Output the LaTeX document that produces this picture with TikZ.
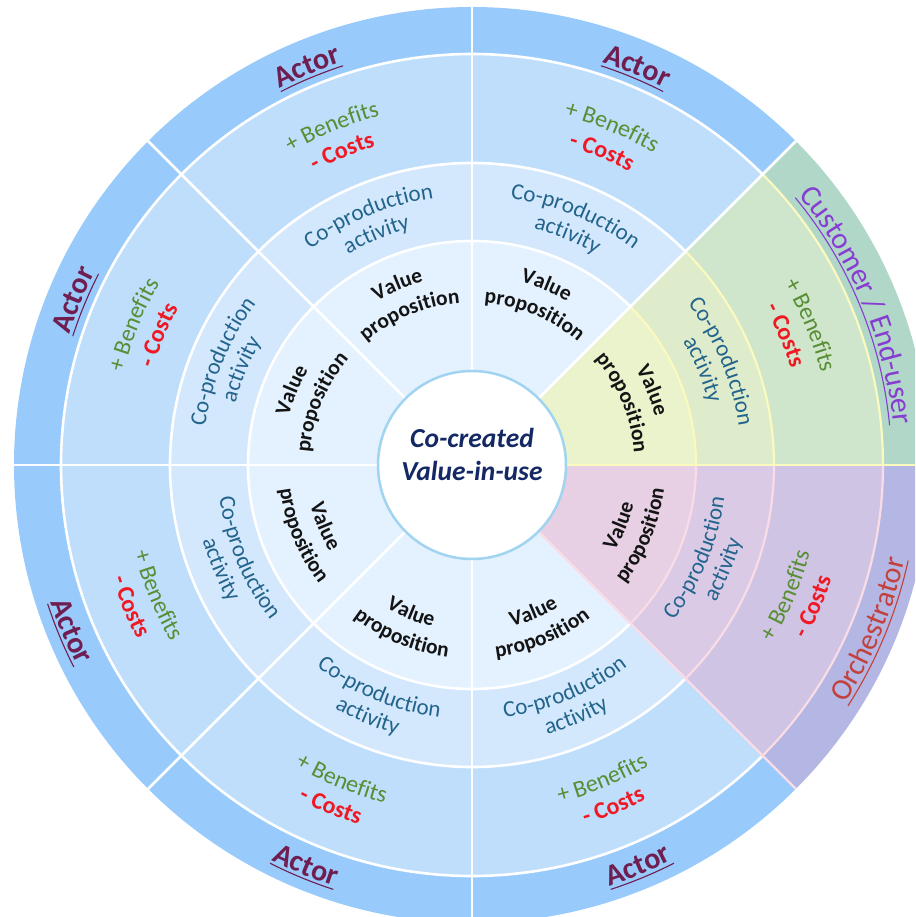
\documentclass[tikz,border=0pt]{standalone}
\usepackage{fontspec}
\setmainfont{Carlito}
\usetikzlibrary{decorations.text}

\definecolor{aOut}{RGB}{152,203,252}
\definecolor{aBen}{RGB}{190,222,252}
\definecolor{aCop}{RGB}{211,232,253}
\definecolor{aVal}{RGB}{228,241,254}
\definecolor{cOut}{RGB}{176,215,200}
\definecolor{cBen}{RGB}{207,229,204}
\definecolor{cCop}{RGB}{222,236,203}
\definecolor{cVal}{RGB}{235,243,205}
\definecolor{oOut}{RGB}{180,182,228}
\definecolor{oBen}{RGB}{207,196,228}
\definecolor{oCop}{RGB}{218,202,230}
\definecolor{oVal}{RGB}{231,208,228}
\definecolor{cLine}{RGB}{250,250,190}
\definecolor{oLine}{RGB}{250,220,230}
\definecolor{ringB}{RGB}{160,212,240}
\definecolor{actorC}{RGB}{112,30,80}
\definecolor{benC}{RGB}{88,142,52}
\definecolor{costC}{RGB}{240,25,35}
\definecolor{copC}{RGB}{35,100,140}
\definecolor{valC}{RGB}{20,20,20}
\definecolor{centC}{RGB}{20,40,100}
\definecolor{custC}{RGB}{135,60,210}
\definecolor{orchC}{RGB}{195,65,60}

\newcommand\FmtL{\fontsize{30}{36}\selectfont}
\newcommand\FmtLB{\fontsize{30}{36}\selectfont\bfseries}
\newcommand\FmtB{\fontsize{24}{29}\selectfont\color{benC}}
\newcommand\FmtK{\fontsize{24}{29}\selectfont\bfseries\color{costC}}
\newcommand\FmtC{\fontsize{23}{28}\selectfont\color{copC}}
\newcommand\FmtV{\fontsize{21.5}{26}\selectfont\bfseries\color{valC}}

\newcommand\WedgeFill[4]{%
  \fill[#4] (#1:#2pt) arc[start angle=#1, end angle=#1+45, radius=#2pt]
    -- ({#1+45}:#3pt) arc[start angle=#1+45, end angle=#1, radius=#3pt] -- cycle;}

% angle, baseline radius, dir (1 upper half, -1 lower half), format, text
\newcommand\ArcText[5]{%
  \pgfmathsetmacro\WaS{#1+(#3)*40}%
  \pgfmathsetmacro\WaE{#1-(#3)*40}%
  \path[decorate,decoration={text along path,text align=center,text={|#4|#5}}]
    (\WaS:#2pt) arc[start angle=\WaS,end angle=\WaE,radius=#2pt];}

% angle, mid radius, line spacing, offset, fmt1, line1, fmt2, line2
\newcommand\TwoLine[8]{%
  \pgfmathsetmacro\WSn{sin(#1)}%
  \ifdim\WSn pt>0pt
    \pgfmathsetmacro\WRa{#2+(#3)/2-(#4)}\pgfmathsetmacro\WRb{#2-(#3)/2-(#4)}\def\WDir{1}%
  \else
    \pgfmathsetmacro\WRa{#2-(#3)/2+(#4)}\pgfmathsetmacro\WRb{#2+(#3)/2+(#4)}\def\WDir{-1}%
  \fi
  \ArcText{#1}{\WRa}{\WDir}{#5}{#6}%
  \ArcText{#1}{\WRb}{\WDir}{#7}{#8}}

% angle, text, colour, text width (pt), font format
\newcommand\OuterLabel[5]{%
  \pgfmathsetmacro\WSn{sin(#1)}%
  \ifdim\WSn pt>0pt
    \def\WDir{1}\def\WRl{423}\def\WRu{419.5}%
  \else
    \def\WDir{-1}\def\WRl{443}\def\WRu{446.5}%
  \fi
  \ArcText{#1}{\WRl}{\WDir}{#5\color{#3}}{#2}%
  \pgfmathsetmacro\WHs{(#4)/(\WRl)*90/3.14159}%
  \pgfmathsetmacro\WuS{#1+(\WDir)*(\WHs)}%
  \pgfmathsetmacro\WuE{#1-(\WDir)*(\WHs)}%
  \draw[draw=#3,line width=1.1pt] (\WuS:\WRu pt) arc[start angle=\WuS,end angle=\WuE,radius=\WRu pt];}

\tikzset{
  sepA/.style={white,line width=2.6pt},
  sepC/.style={cLine,line width=2.2pt},
  sepO/.style={oLine,line width=2.2pt},
}

\begin{document}
\begin{tikzpicture}
\useasboundingbox (-472pt,-452pt) rectangle (443pt,465pt);
\clip (-472pt,-452pt) rectangle (443pt,465pt);

% actor sectors
\foreach \a in {45,90,135,180,225,270}{
  \WedgeFill{\a}{90}{224}{aVal}
  \WedgeFill{\a}{224}{302}{aCop}
  \WedgeFill{\a}{302}{411}{aBen}
  \WedgeFill{\a}{411}{458}{aOut}
}
% customer sector
\WedgeFill{0}{90}{224}{cVal}
\WedgeFill{0}{224}{302}{cCop}
\WedgeFill{0}{302}{411}{cBen}
\WedgeFill{0}{411}{458}{cOut}
% orchestrator sector
\WedgeFill{315}{90}{224}{oVal}
\WedgeFill{315}{224}{302}{oCop}
\WedgeFill{315}{302}{411}{oBen}
\WedgeFill{315}{411}{458}{oOut}

% separators
\foreach \r in {224,302,411}{
  \draw[sepA] (45:\r pt) arc[start angle=45,end angle=315,radius=\r pt];
  \draw[sepC] (0:\r pt) arc[start angle=0,end angle=45,radius=\r pt];
  \draw[sepO] (-45:\r pt) arc[start angle=-45,end angle=0,radius=\r pt];
}
\foreach \a in {45,90,135,180,225,270}{
  \draw[sepA] (\a:94pt) -- (\a:458pt);
}
\draw[sepC] (0:94pt) -- (0:458pt);
\draw[sepO] (315:94pt) -- (315:458pt);

% centre
\node[circle,draw=ringB,line width=2.5pt,fill=white,minimum size=188pt,inner sep=0pt] (core) at (0,0) {};
\node[align=center,font=\fontsize{27.5}{33}\selectfont\bfseries\itshape,text=centC] (corelbl) at (0,11pt) {Co-created\\Value-in-use};

% ring texts
\foreach \a in {22.5,67.5,112.5,157.5,202.5,247.5,292.5,337.5}{
  \TwoLine{\a}{178}{27}{2}{\FmtV}{Value}{\FmtV}{proposition}
  \TwoLine{\a}{262}{25}{5}{\FmtC}{Co-production}{\FmtC}{activity}
  \TwoLine{\a}{355}{28}{8}{\FmtB}{+ Benefits}{\FmtK}{- Costs}
}

% outer labels
\foreach \a in {67.5,112.5,157.5,202.5,247.5,292.5}{
  \OuterLabel{\a}{Actor}{actorC}{68}{\FmtLB}
}
\OuterLabel{22.5}{Customer / End-user}{custC}{252}{\FmtL}
\OuterLabel{337.5}{Orchestrator}{orchC}{157}{\FmtL}
\end{tikzpicture}
\end{document}
